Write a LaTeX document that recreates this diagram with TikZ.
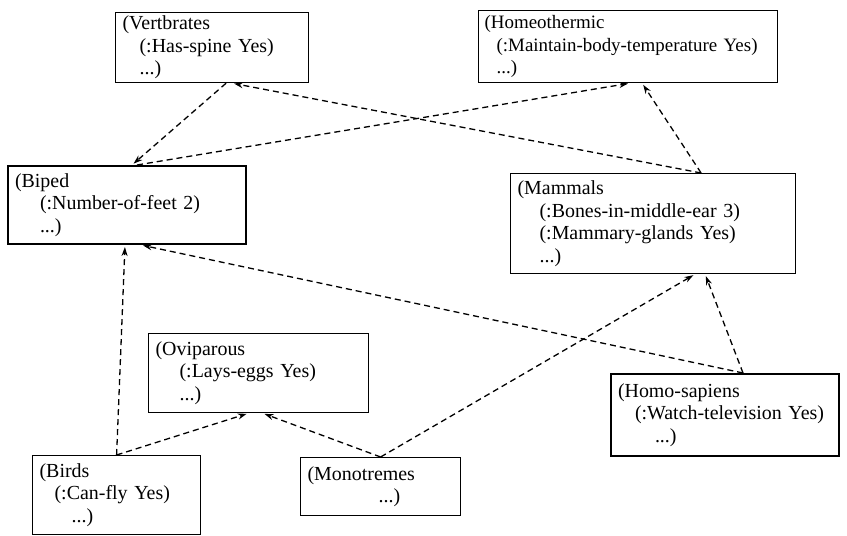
\documentclass[tikz,border=0pt]{standalone}
\usepackage{fontspec}
\setmainfont{Liberation Serif}
\usetikzlibrary{arrows.meta,positioning,calc}

\begin{document}
\begin{tikzpicture}[x=1bp,y=-1bp,
    frame/.style={draw, line width=1.2bp, anchor=north west, align=left,
      inner xsep=7bp, inner ysep=0bp, font=\fontsize{20}{22.5}\selectfont},
    heavy/.style={line width=2bp},
    isa/.style={-{Stealth[length=9bp,width=6bp]}, line width=1.3bp,
      dash pattern=on 6bp off 4bp, shorten >=2bp}]
  \useasboundingbox (0,0) rectangle (847,536);
  % frames
  \node[frame, text width=179bp, minimum height=70bp] (vert) at (115,12)
    {(Vertbrates\\\hspace*{17bp}(:Has-spine Yes)\\\hspace*{17bp}...)};
  \node[frame, inner xsep=6bp, text width=287bp, minimum height=72bp,
      font=\fontsize{19}{22.5}\selectfont] (homeo) at (478,10)
    {(Homeothermic\\\hspace*{12bp}\mbox{(:Maintain-body-temperature Yes)}\\\hspace*{12bp}...)};
  \node[frame, heavy, text width=224bp, minimum height=78bp] (biped) at (7,165)
    {(Biped\\\hspace*{25bp}(:Number-of-feet 2)\\\hspace*{25bp}...)};
  \node[frame, text width=271bp, minimum height=100bp] (mammals) at (510,173)
    {(Mammals\\\hspace*{22bp}(:Bones-in-middle-ear 3)\\\hspace*{22bp}(:Mammary-glands Yes)\\\hspace*{22bp}...)};
  \node[frame, text width=206bp, minimum height=79bp] (ovip) at (148,333)
    {(Oviparous\\\hspace*{24bp}(:Lays-eggs Yes)\\\hspace*{24bp}...)};
  \node[frame, heavy, text width=214bp, minimum height=82bp] (homo) at (610,373)
    {(Homo-sapiens\\\hspace*{17bp}(:Watch-television Yes)\\\hspace*{37bp}...)};
  \node[frame, text width=154bp, minimum height=79bp] (birds) at (32,455)
    {(Birds\\\hspace*{15bp}(:Can-fly Yes)\\\hspace*{32bp}...)};
  \node[frame, text width=146bp, minimum height=58bp] (mono) at (300,457)
    {(Monotremes\\\hspace*{71bp}...)};
  % is-a links
  \draw[isa] ($(vert.south)+(14,0)$) -- ($(biped.north)+(5,0)$);
  \draw[isa] ($(biped.north)+(10,0)$) -- ($(homeo.south)+(2,0)$);
  \draw[isa] ($(mammals.north)+(48,0)$) -- ($(vert.south)+(20,0)$);
  \draw[isa] ($(mammals.north)+(48,0)$) -- ($(homeo.south)+(14,0)$);
  \draw[isa] ($(homo.north)+(18,0)$) -- ($(biped.south)+(14,0)$);
  \draw[isa] ($(homo.north)+(18,0)$) -- ($(mammals.south)+(52,0)$);
  \draw[isa] (mono.north) -- ($(mammals.south)+(42,0)$);
  \draw[isa] (mono.north) -- ($(ovip.south)+(4,0)$);
  \draw[isa] (birds.north) -- ($(ovip.south)+(-10,0)$);
  \draw[isa] (birds.north) -- ($(biped.south)+(-2,0)$);
\end{tikzpicture}
\end{document}
